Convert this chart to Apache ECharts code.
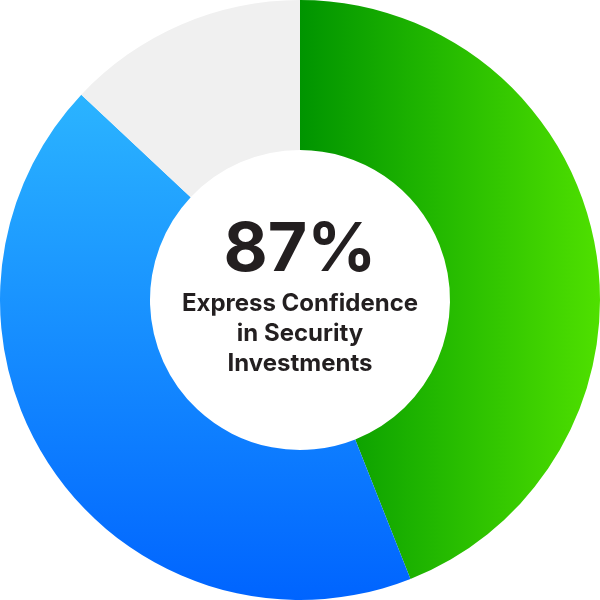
<!DOCTYPE html>
<html>
<head>
<meta charset="utf-8">
<script src="https://cdn.jsdelivr.net/npm/echarts@6/dist/echarts.min.js"></script>
<style>
html,body{margin:0;padding:0;background:#fff;}
#chart{width:600px;height:600px;}
</style>
</head>
<body>
<div id="chart"></div>
<script>
var categories = ['Confident (green)', 'Confident (blue)', 'Not confident'];
var values = [44, 43, 13];
var headline = '87%';
var caption = ['Express Confidence', 'in Security', 'Investments'];

var chart = echarts.init(document.getElementById('chart'));
var colors = [
  new echarts.graphic.LinearGradient(0, 0, 1, 0, [
    {offset: 0, color: '#009400'},
    {offset: 0.45, color: '#22b800'},
    {offset: 1, color: '#4fe000'}
  ]),
  new echarts.graphic.LinearGradient(0, 0, 0, 1, [
    {offset: 0, color: '#2bb4ff'},
    {offset: 1, color: '#0064ff'}
  ]),
  '#f0f0f0'
];
chart.setOption({
  animation: false,
  series: [{
    type: 'pie',
    radius: ['50%', '100%'],
    center: ['50%', '50%'],
    startAngle: 90,
    clockwise: true,
    label: {show: false},
    labelLine: {show: false},
    emphasis: {disabled: true},
    data: categories.map(function (c, i) {
      return {name: c, value: values[i], itemStyle: {color: colors[i]}};
    })
  }],
  graphic: [
    {
      type: 'text', left: 'center', top: 217,
      style: {text: headline, font: 'bold 68px Inter, "Noto Sans", sans-serif', fill: '#231f20', textAlign: 'center'}
    },
    {
      type: 'text', left: 'center', top: 289,
      style: {text: caption.join('\n'), font: 'bold 24px Inter, "Noto Sans", sans-serif', lineHeight: 30, fill: '#231f20', textAlign: 'center'}
    }
  ]
});
</script>
</body>
</html>
